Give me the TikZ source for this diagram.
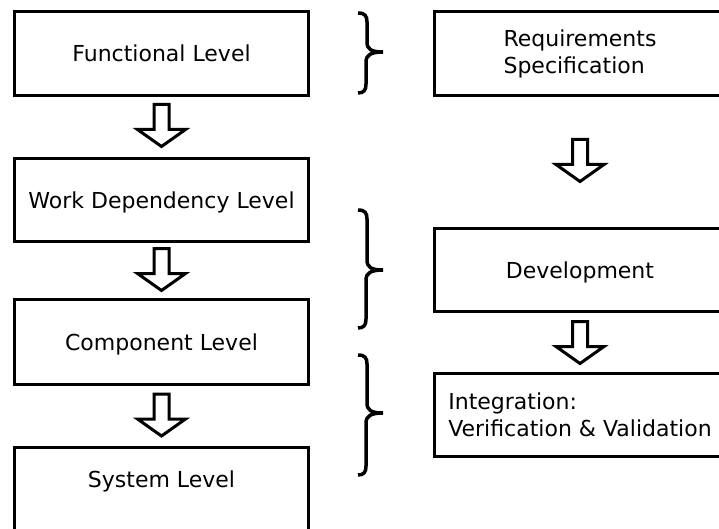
\documentclass[tikz,border=0pt]{standalone}
\usepackage{fontspec}
\setmainfont{DejaVu Sans}
\usetikzlibrary{calc}
\newcommand\mybrace[3]{%
  \draw[bracestyle] (358,#1) .. controls (365,#1) and (367,#1+3) .. (367,#1+9) -- (367,#2-10) .. controls (367,#2-3) and (371,#2) .. (383,#2);
  \draw[bracestyle] (383,#2) .. controls (371,#2) and (366,#2+3) .. (366,#2+10) -- (366,#3-9) .. controls (366,#3-3) and (364,#3) .. (358,#3);}
\begin{document}
\begin{tikzpicture}[x=1pt,y=-1pt,
  box/.style={draw, line width=3pt, inner sep=0pt, font=\fontsize{22}{27}\selectfont},
  lbox/.style={box, minimum width=294pt},
  rbox/.style={box, minimum width=292pt},
  onel/.style={text height=16pt, text depth=0pt},
  blockarrow/.style={draw, line width=3pt, fill=white, line join=miter},
  bracestyle/.style={line width=3.5pt, line cap=butt},
  downblock/.pic={\draw[blockarrow] (-7.5,-21) -- (7.5,-21) -- (7.5,4) -- (24,4) -- (0,21) -- (-24,4) -- (-7.5,4) -- cycle;}
]
\useasboundingbox (0,0) rectangle (719,529);
\fill[white] (0,0) rectangle (719,529);
\clip (0,0) rectangle (719,529);

% left column
\node[lbox, onel, minimum height=84pt] (f) at (161.5,53.5) {Functional Level};
\node[lbox, onel, minimum height=83pt] (w) at (161.5,200) {Work Dependency Level};
\node[lbox, onel, minimum height=85pt] (c) at (161.5,342) {Component Level};
\node[lbox, minimum height=110pt] (s) at (161.5,502.5) {};
\node[font=\fontsize{22}{27}\selectfont, onel, inner sep=0pt] (st) at (161.5,479) {System Level};

% right column
\node[rbox, minimum height=84pt, align=left] (r1) at (580,53.5) {Requirements\\Specification};
\node[rbox, onel, minimum height=83pt] (r2) at (580,270) {Development};
\node[rbox, minimum height=83pt, align=left] (r3) at (580,415) {Integration:\\Verification \& Validation};

% block arrows between boxes
\coordinate (la1) at ($(f.south)!0.5!(w.north)+(0,-1.5)$);
\coordinate (la2) at ($(w.south)!0.5!(c.north)+(0,-1)$);
\coordinate (la3) at ($(c.south)!0.5!(s.north)+(0,-1)$);
\coordinate (ra1) at ($(r1.south)!0.5!(r2.north)+(0,-1.5)$);
\coordinate (ra2) at ($(r2.south)!0.5!(r3.north)$);
\pic at (la1) {downblock};
\pic at (la2) {downblock};
\pic at (la3) {downblock};
\pic at (ra1) {downblock};
\pic at (ra2) {downblock};

% braces
\mybrace{13}{52}{93}
\mybrace{210}{270}{328}
\mybrace{355}{413}{475}
\end{tikzpicture}
\end{document}
